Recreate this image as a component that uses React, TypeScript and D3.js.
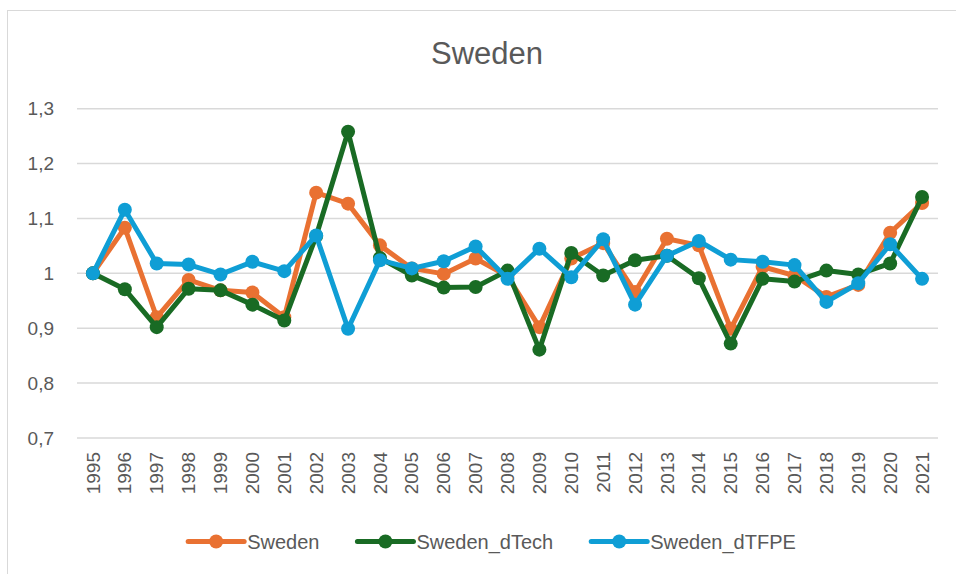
import React, { useRef, useEffect } from 'react';
import * as d3 from 'd3';

const years = [
  '1995', '1996', '1997', '1998', '1999', '2000', '2001', '2002', '2003', '2004',
  '2005', '2006', '2007', '2008', '2009', '2010', '2011', '2012', '2013', '2014',
  '2015', '2016', '2017', '2018', '2019', '2020', '2021',
];

const sweden = [
  1.0, 1.083, 0.92, 0.988, 0.969, 0.965, 0.92, 1.147, 1.127, 1.051,
  1.009, 0.999, 1.027, 0.995, 0.902, 1.027, 1.055, 0.966, 1.063, 1.051,
  0.899, 1.012, 0.996, 0.957, 0.979, 1.074, 1.128,
];

const swedenDTech = [
  1.0, 0.971, 0.902, 0.972, 0.969, 0.943, 0.914, 1.068, 1.258, 1.028,
  0.996, 0.974, 0.975, 1.005, 0.861, 1.037, 0.996, 1.024, 1.032, 0.991,
  0.872, 0.99, 0.985, 1.005, 0.998, 1.018, 1.139,
];

const swedenDTFPE = [
  1.0, 1.116, 1.018, 1.016, 0.998, 1.021, 1.004, 1.069, 0.899, 1.024,
  1.009, 1.022, 1.049, 0.99, 1.045, 0.993, 1.062, 0.943, 1.032, 1.059,
  1.025, 1.021, 1.015, 0.948, 0.982, 1.053, 0.99,
];

const yTicks = [0.7, 0.8, 0.9, 1.0, 1.1, 1.2, 1.3];

const seriesNames = ['Sweden', 'Sweden_dTech', 'Sweden_dTFPE'];
const seriesColors = ['#E97132', '#196B24', '#0F9ED5'];

const FONT = '"Liberation Sans", Arial, sans-serif';
const TEXT = '#595959';

const App: React.FC = () => {
  const ref = useRef<SVGSVGElement>(null);

  useEffect(() => {
    if (!ref.current) return;
    const svg = d3.select(ref.current);
    svg.selectAll('*').remove();

    const W = 956;
    const H = 574;
    const left = 77, right = 938, top = 108.7, bottom = 438;

    // chart frame
    svg.append('rect')
      .attr('x', 7.5).attr('y', 10.5)
      .attr('width', W + 20).attr('height', H + 20)
      .attr('fill', '#fff').attr('stroke', '#d9d9d9').attr('stroke-width', 1);

    svg.append('text')
      .attr('x', 487).attr('y', 64)
      .attr('text-anchor', 'middle')
      .attr('font-family', FONT).attr('font-size', 31)
      .attr('fill', TEXT)
      .text('Sweden');

    const x = d3.scaleBand<string>().domain(years).range([left, right]);
    const y = d3.scaleLinear().domain([0.7, 1.3]).range([bottom, top]);
    const cx = (i: number) => (x(years[i]) || 0) + x.bandwidth() / 2;

    // gridlines
    svg.append('g').selectAll('line')
      .data(yTicks).enter().append('line')
      .attr('x1', left).attr('x2', right)
      .attr('y1', d => y(d)).attr('y2', d => y(d))
      .attr('stroke', '#d9d9d9').attr('stroke-width', 1.5);

    // y labels
    svg.append('g').selectAll('text')
      .data(yTicks).enter().append('text')
      .attr('x', 54).attr('y', d => y(d))
      .attr('dy', '0.35em')
      .attr('text-anchor', 'end')
      .attr('font-family', FONT).attr('font-size', 19)
      .attr('fill', TEXT)
      .text(d => d3.format('.1f')(d).replace('.0', '').replace('.', ','));

    // x labels
    svg.append('g').selectAll('text')
      .data(years).enter().append('text')
      .attr('transform', (d) => `translate(${(x(d) || 0) + x.bandwidth() / 2},452) rotate(-90)`)
      .attr('dy', '0.35em')
      .attr('text-anchor', 'end')
      .attr('font-family', FONT).attr('font-size', 19)
      .attr('fill', TEXT)
      .text(d => d);

    const allSeries = [sweden, swedenDTech, swedenDTFPE];
    const line = d3.line<number>()
      .x((_, i) => cx(i))
      .y(d => y(d));

    allSeries.forEach((vals, s) => {
      const g = svg.append('g');
      g.append('path')
        .datum(vals)
        .attr('fill', 'none')
        .attr('stroke', seriesColors[s])
        .attr('stroke-width', 5)
        .attr('stroke-linejoin', 'round')
        .attr('d', line);
      g.selectAll('circle')
        .data(vals).enter().append('circle')
        .attr('cx', (_, i) => cx(i))
        .attr('cy', d => y(d))
        .attr('r', 7)
        .attr('fill', seriesColors[s]);
    });

    // legend
    const lg = svg.append('g');
    const symW = 56, gapText = 3, gapItem = 38;
    let cursor = 0;
    seriesNames.forEach((name, s) => {
      const item = lg.append('g').attr('transform', `translate(${cursor},0)`);
      item.append('line')
        .attr('x1', 0).attr('x2', symW)
        .attr('y1', 0).attr('y2', 0)
        .attr('stroke', seriesColors[s]).attr('stroke-width', 5)
        .attr('stroke-linecap', 'round');
      item.append('circle')
        .attr('cx', symW / 2).attr('cy', 0).attr('r', 7)
        .attr('fill', seriesColors[s]);
      const t = item.append('text')
        .attr('x', symW + gapText).attr('y', 0)
        .attr('dy', '0.35em')
        .attr('font-family', FONT).attr('font-size', 20)
        .attr('fill', TEXT)
        .text(name);
      const w = (t.node() as SVGTextElement).getComputedTextLength();
      cursor += symW + gapText + w + gapItem;
    });
    const total = cursor - gapItem;
    lg.attr('transform', `translate(${492 - total / 2},541.5)`);
  }, []);

  return (
    <svg
      ref={ref}
      width={956}
      height={574}
      style={{ position: 'absolute', left: 0, top: 0, display: 'block' }}
    />
  );
};

export default App;
